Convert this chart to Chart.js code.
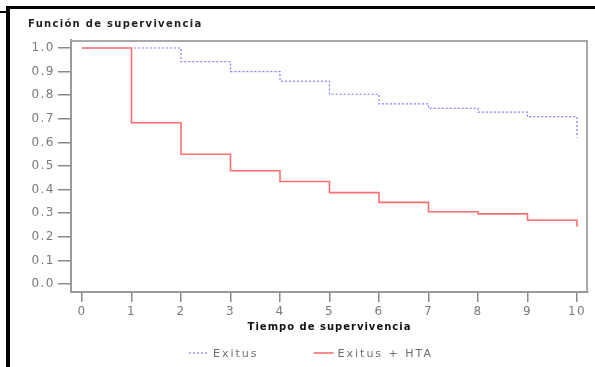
<!DOCTYPE html>
<html>
<head>
<meta charset="utf-8">
<script src="https://cdn.jsdelivr.net/npm/chart.js@4"></script>
<style>
  html, body { margin: 0; padding: 0; background: #fff; }
  #wrap { position: relative; width: 595px; height: 367px; overflow: hidden; }
  #grafico { position: absolute; left: 0; top: 0; }
  .borde { position: absolute; background: #000; z-index: 2; }
</style>
</head>
<body>
<div id="wrap">
  <canvas id="grafico" width="595" height="367"></canvas>
  <div class="borde" style="left:7px; top:6px; width:588px; height:3px;"></div>
  <div class="borde" style="left:6px; top:6px; width:4px; height:361px;"></div>
  <div class="borde" style="left:0; top:11px; width:7px; height:2px;"></div>
</div>
<script>
const tiempoExitus = [0, 2, 3, 4, 5, 6, 7, 8, 9, 10];
const survExitus   = [1.0, 0.942, 0.90, 0.86, 0.804, 0.763, 0.744, 0.728, 0.709, 0.62];
const tiempoHTA    = [0, 1, 2, 3, 4, 5, 6, 7, 8, 9, 10];
const survHTA      = [1.0, 0.683, 0.55, 0.48, 0.434, 0.387, 0.346, 0.306, 0.297, 0.27, 0.243];
const xTicks = [0, 1, 2, 3, 4, 5, 6, 7, 8, 9, 10];
const yTicks = [0, 0.1, 0.2, 0.3, 0.4, 0.5, 0.6, 0.7, 0.8, 0.9, 1.0];
const etiquetas = ["Exitus", "Exitus + HTA"];

const fuente = '"DejaVu Sans", sans-serif';

// cambia el espaciado de letras solo mientras se dibuja una parte
function conEspaciado(obj, metodo, ctx, esp) {
  if (!obj || obj['_esp_' + metodo]) return;
  const orig = obj[metodo];
  obj[metodo] = function (...args) {
    const antes = ctx.letterSpacing;
    ctx.letterSpacing = esp;
    orig.apply(this, args);
    ctx.letterSpacing = antes;
  };
  obj['_esp_' + metodo] = true;
}

// marco del area, leyenda y espaciado de letras
const extras = {
  id: 'extras',
  beforeLayout(chart) { chart.ctx.letterSpacing = '1px'; },
  beforeDraw(chart) {
    const ctx = chart.ctx;
    ctx.letterSpacing = '1px';
    Object.values(chart.scales).forEach(s => conEspaciado(s, 'drawLabels', ctx, '1.5px'));
    conEspaciado(chart.titleBlock, 'draw', ctx, '1.3px');
  },
  afterDraw(chart) {
    const ctx = chart.ctx;
    const a = chart.chartArea;
    ctx.save();
    ctx.strokeStyle = '#a8a8a8';
    ctx.lineWidth = 2;
    ctx.beginPath();
    ctx.moveTo(a.left, a.top + 1);
    ctx.lineTo(a.right - 1, a.top + 1);
    ctx.lineTo(a.right - 1, a.bottom);
    ctx.stroke();

    // leyenda
    ctx.font = '11px ' + fuente;
    ctx.letterSpacing = '2px';
    ctx.textBaseline = 'middle';
    ctx.textAlign = 'left';
    const y = 353;
    const ds = chart.data.datasets;
    const anchos = ds.map(d => ctx.measureText(d.label).width);
    const total = anchos.reduce((s, w) => s + 20 + 4 + w, 0) + 55;
    let x = (chart.width + 28 - 7) / 2 - total / 2 + 3;
    ds.forEach((d, i) => {
      ctx.strokeStyle = d.borderColor;
      ctx.lineWidth = d.borderWidth;
      ctx.setLineDash(d.borderDash || []);
      ctx.beginPath();
      ctx.moveTo(x, y);
      ctx.lineTo(x + 20, y);
      ctx.stroke();
      ctx.setLineDash([]);
      ctx.fillStyle = '#6e6e6e';
      ctx.fillText(d.label, x + 24, y + 1);
      x += 20 + 4 + anchos[i] + 55;
    });
    ctx.restore();
  }
};

new Chart(document.getElementById("grafico"), {
  type: 'line',
  data: {
    datasets: [
      {
        label: etiquetas[0],
        data: tiempoExitus.map((t, i) => ({ x: t, y: survExitus[i] })),
        borderColor: '#7f7fff',
        borderWidth: 1.2,
        borderDash: [2, 2],
        stepped: 'before',
        pointRadius: 0,
        fill: false,
        order: 1
      },
      {
        label: etiquetas[1],
        data: tiempoHTA.map((t, i) => ({ x: t, y: survHTA[i] })),
        borderColor: '#ff6f6f',
        borderWidth: 1.6,
        stepped: 'before',
        pointRadius: 0,
        fill: false,
        order: 0
      }
    ]
  },
  options: {
    responsive: false,
    animation: false,
    layout: { padding: { left: 28, top: 8, right: 7, bottom: 27 } },
    plugins: {
      legend: { display: false },
      tooltip: { enabled: false },
      title: {
        display: true,
        text: 'Función de supervivencia',
        align: 'start',
        color: '#222',
        font: { family: fuente, size: 10, weight: 'bold' },
        padding: { top: 10, bottom: 10 }
      }
    },
    scales: {
      x: {
        type: 'linear',
        min: -0.222,
        max: 10.222,
        afterBuildTicks: s => { s.ticks = xTicks.map(v => ({ value: v })); },
        afterFit: s => { s.height = 48; },
        border: { color: '#9a9a9a', width: 2 },
        grid: { drawOnChartArea: false, drawTicks: true, tickLength: 10, color: '#8a8a8a', lineWidth: 1.5 },
        ticks: { color: '#7a7a7a', padding: 3, maxRotation: 0, font: { family: fuente, size: 12 } },
        title: {
          display: true,
          text: 'Tiempo de supervivencia',
          color: '#111',
          font: { family: fuente, size: 10, weight: 'bold' },
          padding: { top: 0, bottom: 7 }
        }
      },
      y: {
        min: -0.034,
        max: 1.034,
        afterBuildTicks: s => { s.ticks = yTicks.map(v => ({ value: v })); },
        afterFit: s => { s.width = 43; },
        border: { color: '#9a9a9a', width: 2 },
        grid: { drawOnChartArea: false, drawTicks: true, tickLength: 13, color: '#8a8a8a', lineWidth: 1.5 },
        ticks: {
          color: '#7a7a7a',
          padding: 3,
          font: { family: fuente, size: 12 },
          callback: v => v.toFixed(1)
        }
      }
    }
  },
  plugins: [extras]
});
</script>
</body>
</html>
